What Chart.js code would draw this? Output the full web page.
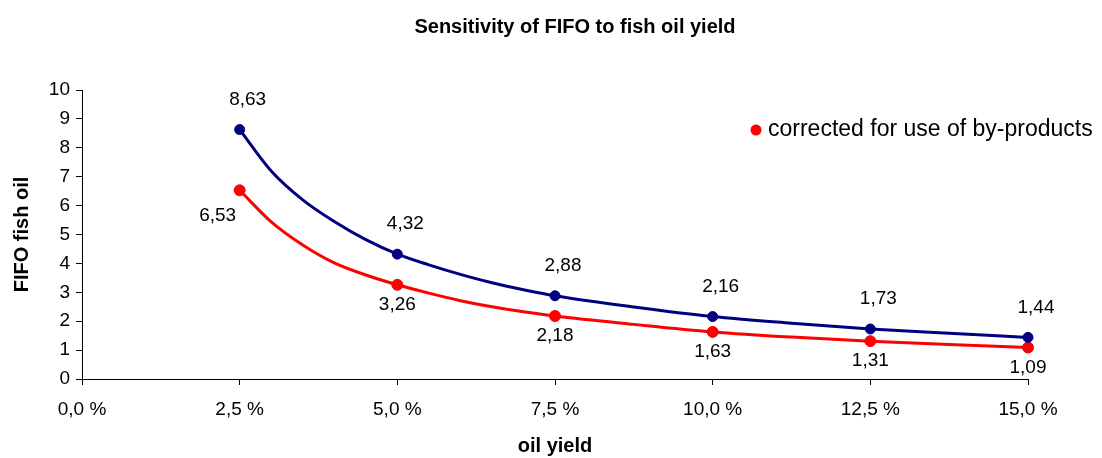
<!DOCTYPE html>
<html>
<head>
<meta charset="utf-8">
<script src="https://cdn.jsdelivr.net/npm/chart.js@4.4.0/dist/chart.umd.min.js"></script>
<style>
  html, body { margin: 0; padding: 0; background: #fff; }
  #wrap { width: 1102px; height: 458px; }
</style>
</head>
<body>
<div id="wrap"><canvas id="fifoChart" width="1102" height="458"></canvas></div>
<script>
// labelled points: oil yield in %
const oilYield = [2.5, 5.0, 7.5, 10.0, 12.5, 15.0];
const fifoFishOil = [8.63, 4.32, 2.88, 2.16, 1.73, 1.44];
const fifoCorrected = [6.53, 3.26, 2.18, 1.63, 1.31, 1.09];

// curve values
const curveYield = [2.5, 3.0, 3.5, 4.0, 4.5, 5.0, 5.5, 6.0, 6.5, 7.0, 7.5, 8.75, 10.0, 11.25, 12.5, 13.75, 15.0];
const curveFishOil = [8.63, 7.20, 6.20, 5.45, 4.82, 4.32, 3.95, 3.62, 3.33, 3.09, 2.88, 2.49, 2.16, 1.93, 1.73, 1.58, 1.44];
const curveCorrected = [6.53, 5.44, 4.64, 4.02, 3.60, 3.26, 2.97, 2.71, 2.50, 2.33, 2.18, 1.89, 1.63, 1.45, 1.31, 1.19, 1.09];

const legendLabel = 'corrected for use of by-products';
const chartTitle = 'Sensitivity of FIFO to fish oil yield';

const FONT = "'Liberation Sans', Arial, sans-serif";
const BLUE = '#000080';
const RED = '#ff0000';

const toPoints = (xs, ys) => ys.map((y, i) => ({x: xs[i], y: y}));
const fmt = (v, d) => v.toFixed(d).replace('.', ',');

// value labels next to each marker
const valueLabels = {
  id: 'valueLabels',
  afterDatasetsDraw(chart) {
    const ctx = chart.ctx;
    ctx.save();
    ctx.font = '19px ' + FONT;
    ctx.fillStyle = '#000';
    ctx.textAlign = 'center';
    ctx.textBaseline = 'middle';
    chart.data.datasets.forEach((ds, di) => {
      if (!ds.valueLabel) return;
      const meta = chart.getDatasetMeta(di);
      meta.data.forEach((pt, i) => {
        const txt = fmt(ds.data[i].y, 2);
        if (ds.valueLabel === 'above') {
          ctx.fillText(txt, pt.x + 8, pt.y - 30);
        } else if (i === 0) {
          ctx.fillText(txt, pt.x - 22, pt.y + 25);
        } else {
          ctx.fillText(txt, pt.x, pt.y + 20);
        }
      });
    });
    ctx.restore();
  }
};

// title + single legend entry inside the plot, like the original
const titleAndLegend = {
  id: 'titleAndLegend',
  afterDraw(chart) {
    const ctx = chart.ctx;
    ctx.save();
    ctx.font = 'bold 20px ' + FONT;
    ctx.fillStyle = '#000';
    ctx.textAlign = 'center';
    ctx.textBaseline = 'middle';
    ctx.fillText(chartTitle, 575, 27);

    const x = chart.chartArea.right - 272;
    const y = chart.chartArea.top + 40;
    ctx.fillStyle = RED;
    ctx.beginPath();
    ctx.arc(x, y, 5.5, 0, Math.PI * 2);
    ctx.fill();
    ctx.font = '23px ' + FONT;
    ctx.fillStyle = '#000';
    ctx.textAlign = 'left';
    ctx.fillText(legendLabel, x + 12, y);
    ctx.restore();
  }
};

const lineSet = (label, xs, ys, color) => ({
  label: label,
  data: toPoints(xs, ys),
  borderColor: color,
  backgroundColor: color,
  borderWidth: 3,
  pointRadius: 0,
  cubicInterpolationMode: 'monotone',
  clip: false
});

const markerSet = (label, ys, color, r, pos) => ({
  label: label,
  data: toPoints(oilYield, ys),
  showLine: false,
  borderColor: color,
  backgroundColor: color,
  pointBackgroundColor: color,
  pointBorderColor: color,
  pointRadius: r,
  valueLabel: pos,
  clip: false
});

new Chart(document.getElementById('fifoChart'), {
  type: 'line',
  data: {
    datasets: [
      lineSet('FIFO fish oil', curveYield, curveFishOil, BLUE),
      lineSet(legendLabel, curveYield, curveCorrected, RED),
      markerSet('FIFO fish oil', fifoFishOil, BLUE, 5, 'above'),
      markerSet(legendLabel, fifoCorrected, RED, 5.5, 'below')
    ]
  },
  options: {
    responsive: false,
    animation: false,
    layout: { padding: { left: 0, right: 74, top: 90, bottom: 0 } },
    plugins: {
      legend: { display: false },
      tooltip: { enabled: false },
      title: { display: false }
    },
    scales: {
      x: {
        type: 'linear',
        min: 0,
        max: 15,
        afterFit: (s) => { s.height = 79; },
        ticks: {
          stepSize: 2.5,
          autoSkip: false,
          maxRotation: 0,
          color: '#000',
          padding: 13,
          font: { family: FONT, size: 19 },
          callback: (v) => fmt(v, 1) + ' %'
        },
        grid: { drawOnChartArea: false, drawTicks: true, tickLength: 6, color: '#000' },
        border: { color: '#000', width: 1 },
        title: {
          display: true,
          text: 'oil yield',
          color: '#000',
          font: { family: FONT, size: 20, weight: 'bold' },
          padding: { top: 0, bottom: 0 }
        }
      },
      y: {
        min: 0,
        max: 10,
        afterFit: (s) => { s.width = 82; },
        ticks: {
          stepSize: 1,
          color: '#000',
          padding: 6,
          font: { family: FONT, size: 19 }
        },
        grid: { drawOnChartArea: false, drawTicks: true, tickLength: 6, color: '#000' },
        border: { color: '#000', width: 1 },
        title: {
          display: true,
          text: 'FIFO fish oil',
          color: '#000',
          font: { family: FONT, size: 20, weight: 'bold' },
          padding: { top: 10, bottom: 0 }
        }
      }
    }
  },
  plugins: [valueLabels, titleAndLegend]
});
</script>
</body>
</html>
